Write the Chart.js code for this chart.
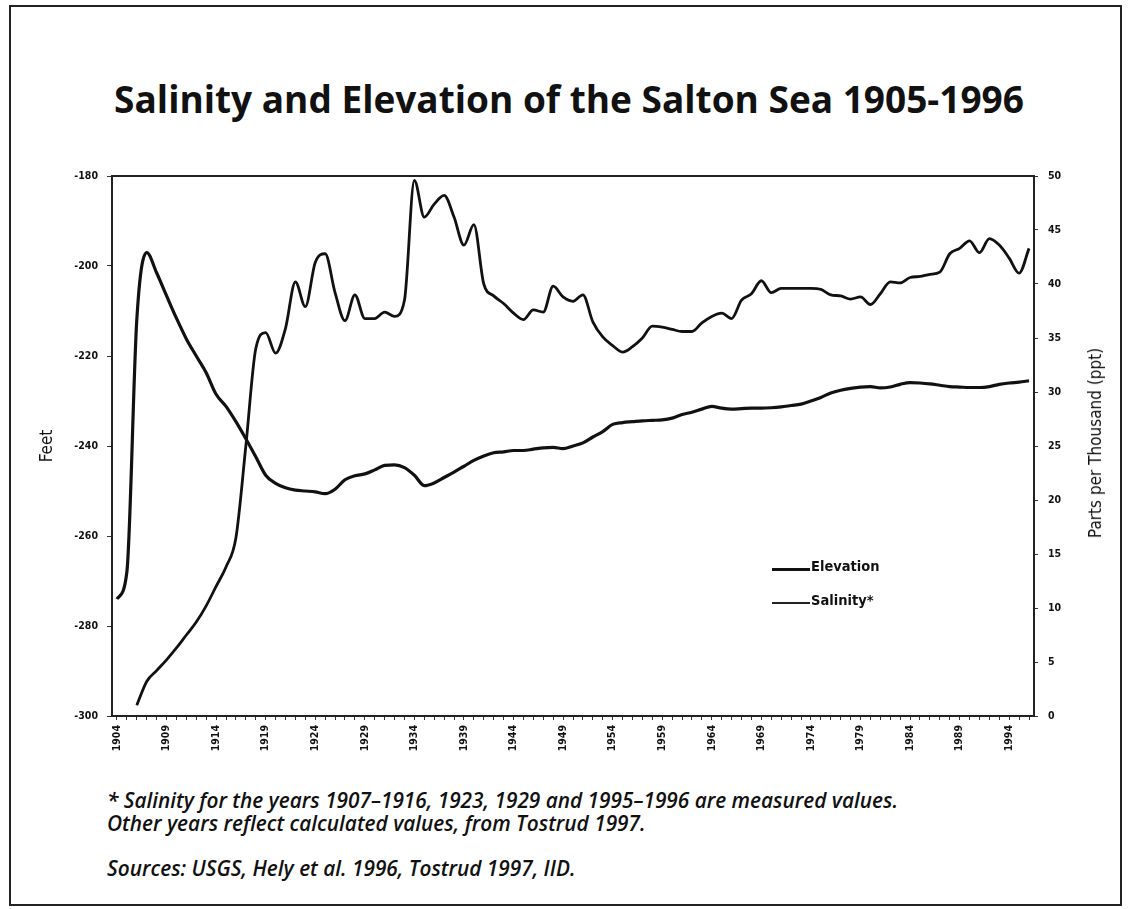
<!DOCTYPE html>
<html>
<head>
<meta charset="utf-8">
<title>Salinity and Elevation of the Salton Sea 1905-1996</title>
<script src="https://cdn.jsdelivr.net/npm/chart.js@4.4.1/dist/chart.umd.min.js"></script>
<style>
  body {
    margin: 0;
    width: 1128px;
    height: 909px;
    background: #fff;
    position: relative;
    overflow: hidden;
    color: #111;
    font-family: "DejaVu Sans Condensed", "DejaVu Sans", sans-serif;
  }
  .moldura {
    position: absolute;
    left: 9px;
    top: 5px;
    width: 1109px;
    height: 897px;
    border: 2px solid #222;
  }
  h1 {
    position: absolute;
    left: 0;
    top: 74px;
    width: 1138px;
    margin: 0;
    text-align: center;
    font: 700 37px "Open Sans", sans-serif;
    line-height: 50px;
  }
  #grafico {
    position: absolute;
    left: 0;
    top: 150px;
  }
  .titulo-direita {
    position: absolute;
    left: 1095px;
    top: 443px;
    transform: translate(-50%, -50%) rotate(-90deg);
    white-space: nowrap;
    font-size: 17px;
  }
  .legenda {
    position: absolute;
    left: 772px;
    top: 558px;
    font-size: 14.5px;
    font-weight: bold;
  }
  .legenda div {
    height: 34px;
    display: flex;
    align-items: flex-start;
  }
  .legenda span {
    display: inline-block;
    width: 38px;
    margin-top: 10px;
    margin-right: 1px;
  }
  .grossa { border-top: 3px solid #111; }
  .fina { border-top: 2px solid #222; }
  .notas {
    position: absolute;
    left: 107px;
    top: 789px;
    font: italic 600 20.8px "Open Sans", sans-serif;
    line-height: 23px;
  }
  .notas p { margin: 0; }
  .notas .fontes { margin-top: 22px; }
</style>
</head>
<body>
<div class="moldura"></div>
<h1>Salinity and Elevation of the Salton Sea 1905-1996</h1>
<canvas id="grafico" width="1128" height="616"></canvas>
<div class="titulo-direita">Parts per Thousand (ppt)</div>
<div class="legenda">
  <div><span class="grossa"></span>Elevation</div>
  <div><span class="fina"></span>Salinity*</div>
</div>
<div class="notas">
  <p>* Salinity for the years 1907–1916, 1923, 1929 and 1995–1996 are measured values.</p>
  <p>Other years reflect calculated values, from Tostrud 1997.</p>
  <p class="fontes">Sources: USGS, Hely et al. 1996, Tostrud 1997, IID.</p>
</div>
<script>
const anos = [
  1904, 1905, 1906, 1907, 1908, 1909, 1910, 1911, 1912, 1913,
  1914, 1915, 1916, 1917, 1918, 1919, 1920, 1921, 1922, 1923,
  1924, 1925, 1926, 1927, 1928, 1929, 1930, 1931, 1932, 1933,
  1934, 1935, 1936, 1937, 1938, 1939, 1940, 1941, 1942, 1943,
  1944, 1945, 1946, 1947, 1948, 1949, 1950, 1951, 1952, 1953,
  1954, 1955, 1956, 1957, 1958, 1959, 1960, 1961, 1962, 1963,
  1964, 1965, 1966, 1967, 1968, 1969, 1970, 1971, 1972, 1973,
  1974, 1975, 1976, 1977, 1978, 1979, 1980, 1981, 1982, 1983,
  1984, 1985, 1986, 1987, 1988, 1989, 1990, 1991, 1992, 1993,
  1994, 1995, 1996,
];

// feet
const elevacao = [
  -274, -268, -212, -197, -201.5, -206.6, -211.6, -216.2, -220, -223.7,
  -228.5, -231.2, -234.6, -238.4, -242.4, -246.5, -248.3, -249.3, -249.8, -250,
  -250.2, -250.6, -249.6, -247.5, -246.6, -246.2, -245.3, -244.3, -244.2, -244.8,
  -246.5, -248.8, -248.2, -247, -245.8, -244.5, -243.2, -242.2, -241.5, -241.3,
  -241, -241, -240.7, -240.4, -240.3, -240.6, -240, -239.3, -238, -236.8,
  -235.2, -234.8, -234.6, -234.4, -234.3, -234.2, -233.8, -233, -232.5, -231.8,
  -231.2, -231.6, -231.8, -231.7, -231.6, -231.6, -231.5, -231.3, -231, -230.7,
  -230, -229.2, -228.2, -227.6, -227.2, -226.9, -226.8, -227.1, -226.9, -226.3,
  -225.9, -226, -226.2, -226.5, -226.8, -226.9, -227, -227, -226.8, -226.3,
  -226, -225.8, -225.5,
];

// ppt
const salinidade = [
  null, null, 1.0, 3.2, 4.2, 5.2, 6.3, 7.5, 8.7, 10.2,
  12.0, 13.8, 16.5, 25, 34, 35.5, 33.6, 35.9, 40.2, 37.9,
  42, 42.8, 39.2, 36.6, 39, 36.8, 36.8, 37.4, 37, 38.5,
  49.6, 46.2, 47.4, 48.2, 46.2, 43.6, 45.5, 40, 38.9, 38.2,
  37.3, 36.7, 37.6, 37.4, 39.8, 38.8, 38.4, 39, 36.5, 35.1,
  34.3, 33.7, 34.2, 35, 36.1, 36, 35.8, 35.6, 35.6, 36.4,
  37, 37.3, 36.8, 38.5, 39.1, 40.3, 39.2, 39.6, 39.6, 39.6,
  39.6, 39.5, 39, 38.9, 38.6, 38.8, 38.1, 39.1, 40.2, 40.1,
  40.6, 40.7, 40.9, 41.1, 42.8, 43.3, 44, 42.9, 44.2, 43.6,
  42.4, 41, 43.3,
];

const ticksFeet = { min: -300, max: -180, passo: 20 };
const ticksPpt = { min: 0, max: 50, passo: 5 };

const fonteEixo = { family: "'DejaVu Sans Condensed', 'DejaVu Sans', sans-serif", size: 10.5, weight: "bold" };

// caixa em volta da area do grafico
const moldura = {
  id: "moldura",
  afterDraw(chart) {
    const { ctx, chartArea: a } = chart;
    ctx.save();
    ctx.strokeStyle = "#222";
    ctx.lineWidth = 2;
    ctx.strokeRect(a.left, a.top, a.right - a.left, a.bottom - a.top);
    ctx.restore();
  },
};

new Chart(document.getElementById("grafico"), {
  type: "line",
  data: {
    labels: anos,
    datasets: [
      {
        label: "Elevation",
        data: elevacao,
        yAxisID: "y",
        borderColor: "#111",
        borderWidth: 3.2,
        pointRadius: 0,
        cubicInterpolationMode: "monotone",
      },
      {
        label: "Salinity*",
        data: salinidade,
        yAxisID: "y1",
        borderColor: "#111",
        borderWidth: 2.8,
        pointRadius: 0,
        cubicInterpolationMode: "monotone",
      },
    ],
  },
  plugins: [moldura],
  options: {
    responsive: false,
    animation: false,
    layout: { padding: { top: 26, left: 0, right: 0, bottom: 0 } },
    plugins: {
      legend: { display: false },
      tooltip: { enabled: false },
    },
    scales: {
      x: {
        offset: true,
        border: { display: false },
        grid: { drawOnChartArea: false, tickLength: 4, color: "#333" },
        ticks: {
          autoSkip: false,
          minRotation: 90,
          maxRotation: 90,
          padding: 5,
          color: "#111",
          font: fonteEixo,
          callback: function (v, i) {
            return (anos[i] - 1904) % 5 === 0 ? String(anos[i]) : "";
          },
        },
        afterFit: (s) => {
          s.height = 50;
        },
      },
      y: {
        position: "left",
        min: ticksFeet.min,
        max: ticksFeet.max,
        border: { display: false },
        grid: { drawOnChartArea: false, tickLength: 5, color: "#333" },
        ticks: { stepSize: ticksFeet.passo, padding: 9, color: "#111", font: fonteEixo },
        title: {
          display: true,
          text: "Feet",
          color: "#111",
          padding: { top: 37 },
          font: { family: "'DejaVu Sans Condensed', 'DejaVu Sans', sans-serif", size: 17 },
        },
        afterFit: (s) => {
          s.width = 112;
        },
      },
      y1: {
        position: "right",
        min: ticksPpt.min,
        max: ticksPpt.max,
        border: { display: false },
        grid: { drawOnChartArea: false, tickLength: 4, color: "#333" },
        ticks: { stepSize: ticksPpt.passo, padding: 10, color: "#111", font: fonteEixo },
        afterFit: (s) => {
          s.width = 94;
        },
      },
    },
  },
});
</script>
</body>
</html>
